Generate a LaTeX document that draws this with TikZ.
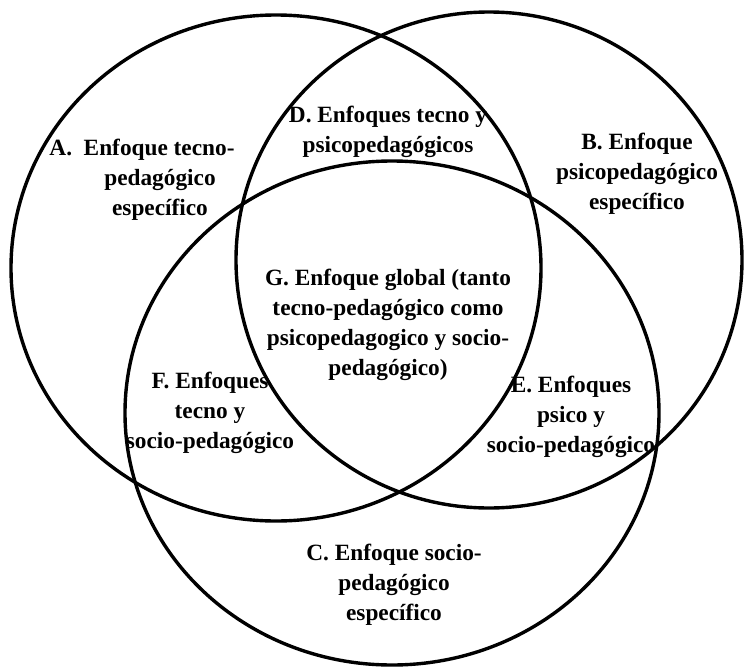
\documentclass[tikz,border=0pt]{standalone}
\usepackage{fontspec}
\setmainfont{Liberation Serif}
\begin{document}
\begin{tikzpicture}[x=1pt,y=-1pt,
  ring/.style={line width=3.4pt,draw=black},
  region/.style={align=center,inner sep=0pt,font=\bfseries\fontsize{23.3}{30}\selectfont}]
\useasboundingbox (0,0) rectangle (745,667);
% the three sets
\draw[ring] (276,268) ellipse [x radius=265pt, y radius=253pt];
\draw[ring] (489,260) ellipse [x radius=253pt, y radius=248pt];
\draw[ring] (392,413) ellipse [x radius=267pt, y radius=252pt];
% region labels
\node[region] (A) at (160,180) {A.\ \ Enfoque tecno-\hspace*{36pt}\\pedagógico\\específico};
\node[region] (B) at (637,174) {B. Enfoque\\psicopedagógico\\específico};
\node[region] (C) at (394,585) {C. Enfoque socio-\\pedagógico\\específico};
\node[region] (D) at (388,132) {D. Enfoques tecno y\\psicopedagógicos};
\node[region] (E) at (571,417) {E. Enfoques\\psico y\\socio-pedagógico};
\node[region] (F) at (210,413) {F. Enfoques\\tecno y\\socio-pedagógico};
\node[region] (G) at (388,325) {G. Enfoque global (tanto\\tecno-pedagógico como\\psicopedagogico y socio-\\pedagógico)};
\end{tikzpicture}
\end{document}
